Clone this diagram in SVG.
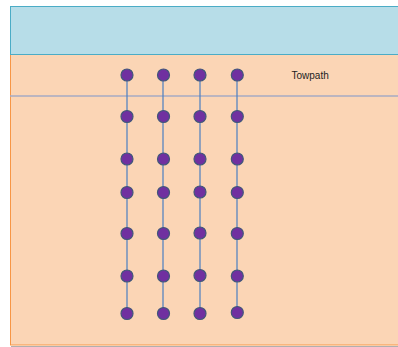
<svg xmlns="http://www.w3.org/2000/svg" width="398" height="347" viewBox="0 0 398 347">
<style>
.n{fill:#7030a0;stroke:#41577a;stroke-width:1.2}
.c{stroke:#4a7fc1;stroke-width:1.2;fill:none}
.lbl{font-family:"Liberation Sans",Arial,sans-serif;font-size:10px;fill:#222}
</style>
<rect x="0" y="0" width="398" height="347" fill="#ffffff"/>
<g id="land">
<rect x="11" y="346" width="400" height="1" fill="#b0b0b0"/>
<rect x="10.5" y="54.5" width="400" height="290.5" fill="#fbd5b5" stroke="#f79646" stroke-width="1"/>
<line x1="10" y1="96" x2="398" y2="96" stroke="#a6aac4" stroke-width="1.5"/>
</g>
<g id="water"><rect x="10.5" y="6.5" width="400" height="48" fill="#b7dde8" stroke="#4bacc6" stroke-width="1"/></g>
<g id="connectors">
<line class="c" x1="127" y1="75" x2="127" y2="313"/>
<line class="c" x1="163" y1="75" x2="163" y2="313" stroke="#8ea4c8"/>
<line class="c" x1="200" y1="75" x2="200" y2="313"/>
<line class="c" x1="237" y1="75" x2="237" y2="312"/>
</g>
<g id="col1">
<circle class="n" cx="127" cy="75" r="6"/><circle class="n" cx="127" cy="116.5" r="6"/><circle class="n" cx="127" cy="159" r="6"/><circle class="n" cx="127" cy="192.5" r="6"/><circle class="n" cx="127" cy="233.5" r="6"/><circle class="n" cx="127" cy="276" r="6"/><circle class="n" cx="127" cy="313.5" r="6"/>
</g>
<g id="col2">
<circle class="n" cx="163.5" cy="75" r="6"/><circle class="n" cx="163.5" cy="116.5" r="6"/><circle class="n" cx="163.5" cy="159" r="6"/><circle class="n" cx="163.5" cy="192.5" r="6"/><circle class="n" cx="163.5" cy="233.5" r="6"/><circle class="n" cx="163.5" cy="276" r="6"/><circle class="n" cx="163.5" cy="313.5" r="6"/>
</g>
<g id="col3">
<circle class="n" cx="200" cy="75" r="6"/><circle class="n" cx="200" cy="116.5" r="6"/><circle class="n" cx="200" cy="159" r="6"/><circle class="n" cx="200" cy="192" r="6"/><circle class="n" cx="200" cy="233" r="6"/><circle class="n" cx="200" cy="275.5" r="6"/><circle class="n" cx="200" cy="313.5" r="6"/>
</g>
<g id="col4">
<circle class="n" cx="237.3" cy="75" r="6"/><circle class="n" cx="237.3" cy="116.5" r="6"/><circle class="n" cx="237.3" cy="159" r="6"/><circle class="n" cx="237.3" cy="192.5" r="6"/><circle class="n" cx="237.3" cy="233.5" r="6"/><circle class="n" cx="237.3" cy="276" r="6"/><circle class="n" cx="237.3" cy="312.5" r="6"/>
</g>
<g id="towpath-label"><text class="lbl" x="291.5" y="78.5">Towpath</text></g>
</svg>
